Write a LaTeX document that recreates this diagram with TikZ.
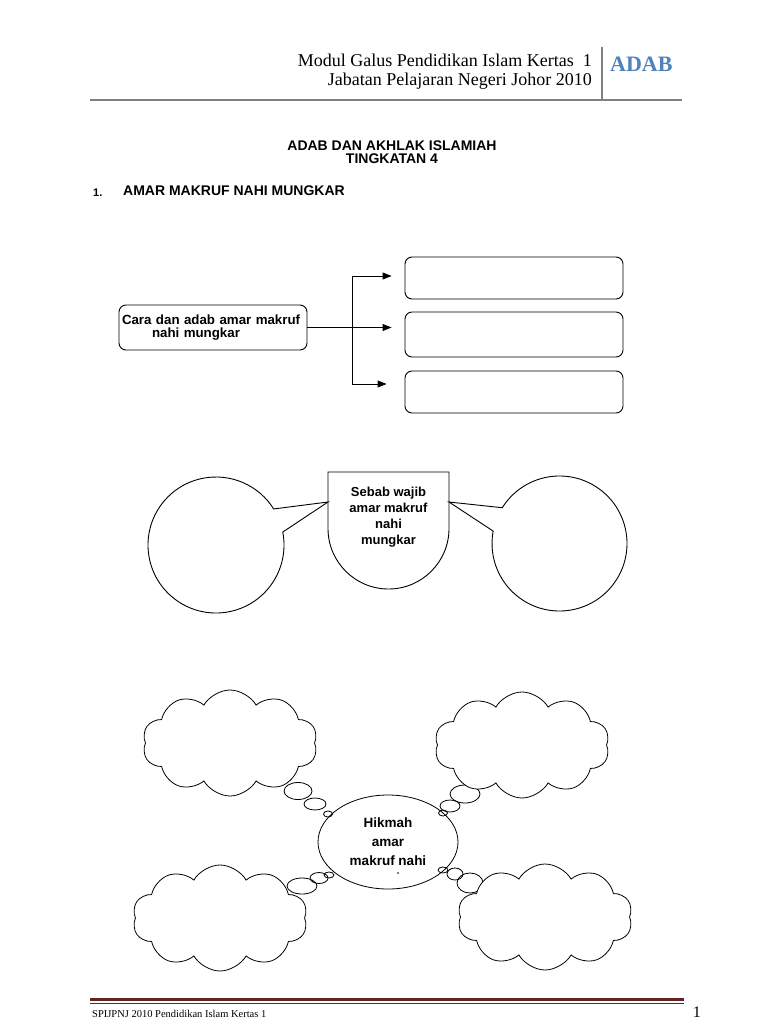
\documentclass[tikz,border=0pt]{standalone}
\usepackage{fontspec}
\setmainfont{Liberation Sans}
\newfontfamily\hdrfont{Liberation Serif}
\usetikzlibrary{arrows.meta,positioning,shapes.geometric,shapes.symbols}
\definecolor{akblue}{HTML}{4F81BD}
\definecolor{akgrey}{HTML}{808080}
\definecolor{akmaroon}{HTML}{622423}
\tikzset{
  ak text/.style={font=\bfseries\fontsize{13}{16}\selectfont, text=black},
  ak head/.style={font=\hdrfont\fontsize{18}{20}\selectfont, anchor=base east, inner sep=0pt},
  ak title/.style={font=\bfseries\fontsize{14}{16}\selectfont, inner sep=0pt},
  ak box/.style={draw=black, line width=0.9pt, rounded corners=7pt, minimum width=218pt},
  ak arrow/.style={-{Triangle[length=9pt,width=7pt]}, line width=0.9pt},
  ak line/.style={line width=0.9pt},
  ak cloud/.style={draw, fill=white, cloud, cloud puffs=10, cloud puff arc=120,
    cloud ignores aspect, minimum width=175pt, minimum height=106pt, inner sep=0pt, line width=0.8pt},
  ak bubble/.style={draw, line width=0.8pt}
}
\begin{document}
\begin{tikzpicture}[x=1pt, y=-1pt]
  \fill[white] (0,0) rectangle (768,1024);
  \useasboundingbox (0,0) rectangle (768,1024);
  % header
  \node[ak head] (hdrA) at (592,67) {Modul Galus Pendidikan Islam Kertas\ \ 1};
  \node[ak head] (hdrB) at (592,86) {Jabatan Pelajaran Negeri Johor 2010};
  \node[font=\hdrfont\bfseries\fontsize{22}{24}\selectfont, text=akblue, anchor=base west, inner sep=0pt] (bab) at (610,72) {ADAB};
  \draw[akgrey, line width=1.2pt] (602,47) -- (602,100);
  \draw[akgrey, line width=2.2pt] (90,100) -- (682,100);
  % tajuk
  \node[ak title, anchor=base] (tajukA) at (392,151) {ADAB DAN AKHLAK ISLAMIAH};
  \node[ak title, anchor=base] (tajukB) at (392,164) {TINGKATAN 4};
  \node[font=\bfseries\fontsize{11}{13}\selectfont, anchor=base west, inner sep=0pt] (nombor) at (93,197) {1.};
  \node[ak title, anchor=base west] (topik) at (123,196) {AMAR MAKRUF NAHI MUNGKAR};
  % cara dan adab
  \node[ak box, minimum width=188pt, minimum height=45pt, text width=182pt, align=left, inner sep=3pt,
    font=\bfseries\fontsize{13.3}{12.5}\selectfont] (cara) at (213,327.5) {Cara dan adab amar makruf\\\hspace*{30pt}nahi mungkar};
  \node[ak box, minimum height=42pt] (isiA) at (514,278) {};
  \node[ak box, minimum height=45pt] (isiB) at (514,334.5) {};
  \node[ak box, minimum height=42pt] (isiC) at (514,392) {};
  \coordinate (hubA) at (352,276);
  \coordinate (hubC) at (352,384);
  \draw[ak line] (hubA) -- (hubC);
  \draw[ak arrow, shorten >=13pt] (hubA) -- (hubA -| isiA.west);
  \draw[ak arrow, shorten >=13pt] (cara.east) -- (cara.east -| isiB.west);
  \draw[ak arrow, shorten >=18pt] (hubC) -- (hubC -| isiC.west);
  % sebab wajib
  \coordinate (tipL) at (328,502);
  \coordinate (tipR) at (449,502);
  \draw[ak line] (328,472) -- (449,472) -- (449,528.5) arc[start angle=0, end angle=180, radius=60.5] -- cycle;
  \node[ak text, align=center] (sebab) at (388.5,517) {Sebab wajib\\amar makruf\\nahi\\mungkar};
  \draw[ak line] (216,545) ++(-11:68) arc[start angle=-11, end angle=328, radius=68] -- (tipL) -- cycle;
  \draw[ak line] (559.5,543.5) ++(212:67.5) arc[start angle=212, end angle=550.6, radius=67.5] -- (tipR) -- cycle;
  % hikmah
  \node[draw, ellipse, line width=0.8pt, minimum width=140pt, minimum height=94pt, inner sep=0pt, align=center,
    font=\bfseries\fontsize{13.5}{19}\selectfont] (hikmah) at (388,842) {Hikmah\\amar\\makruf nahi};
  \fill (398,873) circle (0.9);
  \foreach \x/\y/\a/\b in {298/791/14/8.5, 315/804/11/6, 328/814/4.5/3,
    465/794/15/9, 450/806/10/6, 443/813/4.5/3,
    302/886/15/8, 319/878/9/5.5, 329/875/5/3,
    443/870/5/3, 455/874/8/6, 470/883/13/10}
    \draw[ak bubble] (\x,\y) ellipse[x radius=\a, y radius=\b];
  \node[ak cloud] (awanA) at (230,743) {};
  \node[ak cloud] (awanB) at (522,745) {};
  \node[ak cloud] (awanC) at (220,918) {};
  \node[ak cloud] (awanD) at (545,917) {};
  % kaki
  \draw[akmaroon, line width=3.5pt] (90,999.5) -- (684,999.5);
  \draw[akmaroon, line width=1pt] (90,1003.5) -- (684,1003.5);
  \node[font=\hdrfont\fontsize{10.5}{12}\selectfont, anchor=base west, inner sep=0pt] (kaki) at (92,1017) {SPIJPNJ 2010 Pendidikan Islam Kertas 1};
  \node[font=\hdrfont\fontsize{16}{18}\selectfont, anchor=base east, inner sep=0pt] (halaman) at (701,1017) {1};
\end{tikzpicture}
\end{document}
